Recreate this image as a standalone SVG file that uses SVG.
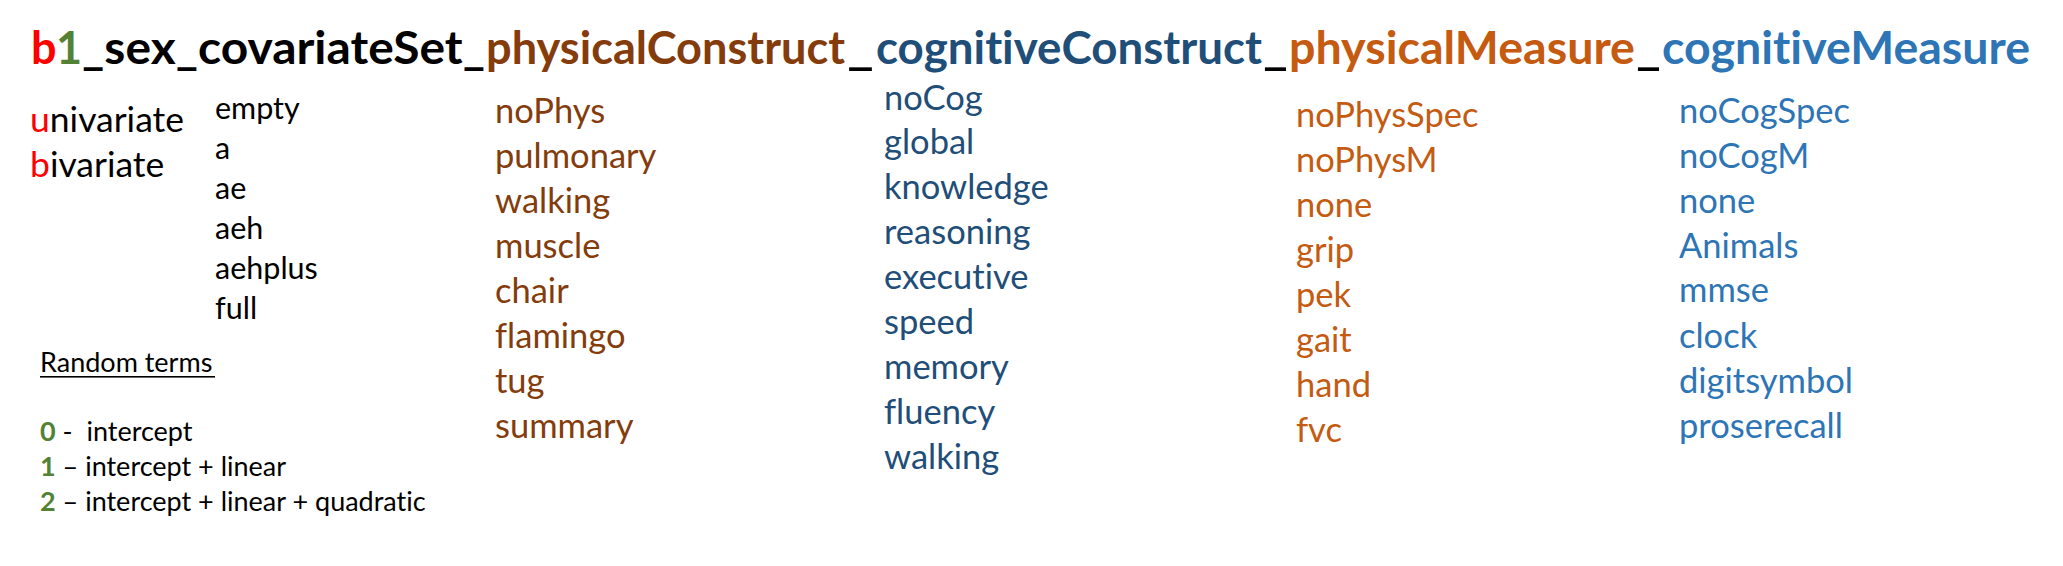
<svg xmlns="http://www.w3.org/2000/svg" width="2063" height="566" viewBox="0 0 2063 566">
<style>
text { font-family: Lato, "Open Sans", sans-serif; font-variant-ligatures: none; }
.t { font-size: 45px; font-weight: bold; }
.l { font-size: 34.5px; }
.m { font-size: 35.5px; }
.s { font-size: 30.5px; fill: #000; }
.r { font-size: 27px; fill: #000; }
.red { fill: #FF0000; }
.grn { fill: #548235; }
.blk { fill: #000000; }
.brn { fill: #843C0C; }
.dbl { fill: #1F4E79; }
.org { fill: #C55A11; }
.lbl { fill: #2E75B6; }
</style>
<rect width="2063" height="566" fill="#FFFFFF"/>
<g id="title" class="t">
  <text x="31" y="64" class="red">b</text>
  <text x="56" y="64" class="grn">1</text>
  <text x="82" y="64" class="blk" textLength="403" lengthAdjust="spacingAndGlyphs">_sex_covariateSet_</text>
  <text x="486" y="64" class="brn" textLength="359" lengthAdjust="spacingAndGlyphs">physicalConstruct</text>
  <text x="847" y="64" class="blk" textLength="27" lengthAdjust="spacingAndGlyphs">_</text>
  <text x="876" y="64" class="dbl" textLength="386" lengthAdjust="spacingAndGlyphs">cognitiveConstruct</text>
  <text x="1263" y="64" class="blk" textLength="25" lengthAdjust="spacingAndGlyphs">_</text>
  <text x="1289" y="64" class="org" textLength="346" lengthAdjust="spacingAndGlyphs">physicalMeasure</text>
  <text x="1636" y="64" class="blk" textLength="25" lengthAdjust="spacingAndGlyphs">_</text>
  <text x="1662" y="64" class="lbl" textLength="368" lengthAdjust="spacingAndGlyphs">cognitiveMeasure</text>
</g>
<g id="model-type" class="m">
  <text x="30" y="132"><tspan class="red">u</tspan><tspan class="blk">nivariate</tspan></text>
  <text x="30" y="177"><tspan class="red">b</tspan><tspan class="blk">ivariate</tspan></text>
</g>
<g id="covariate-set" class="s">
  <text x="215" y="119">empty</text>
  <text x="215" y="159">a</text>
  <text x="215" y="199">ae</text>
  <text x="215" y="239">aeh</text>
  <text x="215" y="279">aehplus</text>
  <text x="215" y="319">full</text>
</g>
<g id="random-terms" class="r">
  <text x="40" y="372">Random terms</text>
  <rect x="40" y="376" width="175" height="1.6" fill="#000"/>
  <text x="40" y="441"><tspan class="grn" font-weight="bold">0</tspan> -&#160; intercept</text>
  <text x="40" y="476"><tspan class="grn" font-weight="bold">1</tspan> – intercept + linear</text>
  <text x="40" y="511"><tspan class="grn" font-weight="bold">2</tspan> – intercept + linear + quadratic</text>
</g>
<g id="physical-construct" class="l brn">
  <text x="495" y="123">noPhys</text>
  <text x="495" y="168">pulmonary</text>
  <text x="495" y="213">walking</text>
  <text x="495" y="258">muscle</text>
  <text x="495" y="303">chair</text>
  <text x="495" y="348">flamingo</text>
  <text x="495" y="393">tug</text>
  <text x="495" y="438">summary</text>
</g>
<g id="cognitive-construct" class="l dbl">
  <text x="884" y="110">noCog</text>
  <text x="884" y="154">global</text>
  <text x="884" y="199">knowledge</text>
  <text x="884" y="244">reasoning</text>
  <text x="884" y="289">executive</text>
  <text x="884" y="334">speed</text>
  <text x="884" y="379">memory</text>
  <text x="884" y="424">fluency</text>
  <text x="884" y="469">walking</text>
</g>
<g id="physical-measure" class="l org">
  <text x="1296" y="127">noPhysSpec</text>
  <text x="1296" y="172">noPhysM</text>
  <text x="1296" y="217">none</text>
  <text x="1296" y="262">grip</text>
  <text x="1296" y="307">pek</text>
  <text x="1296" y="352">gait</text>
  <text x="1296" y="397">hand</text>
  <text x="1296" y="442">fvc</text>
</g>
<g id="cognitive-measure" class="l lbl">
  <text x="1679" y="123">noCogSpec</text>
  <text x="1679" y="168">noCogM</text>
  <text x="1679" y="213">none</text>
  <text x="1679" y="258">Animals</text>
  <text x="1679" y="302">mmse</text>
  <text x="1679" y="348">clock</text>
  <text x="1679" y="393">digitsymbol</text>
  <text x="1679" y="438">proserecall</text>
</g>
</svg>
